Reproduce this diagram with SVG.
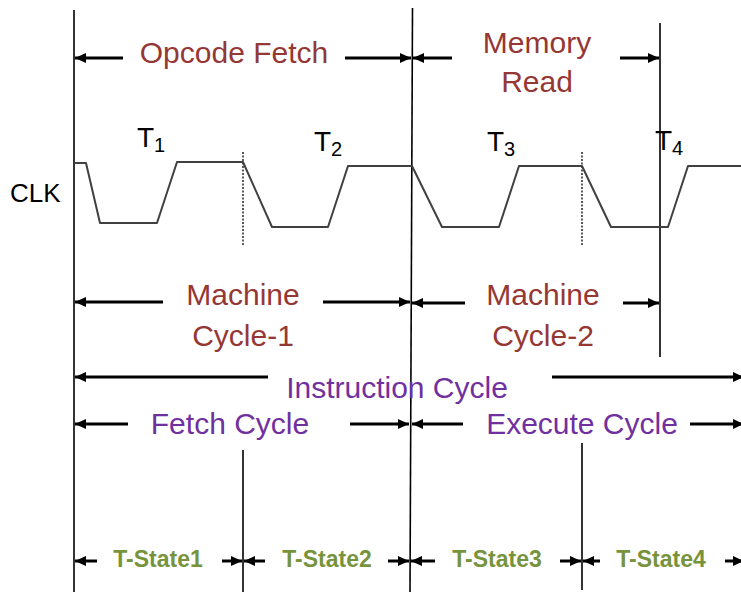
<svg xmlns="http://www.w3.org/2000/svg" width="741" height="592" viewBox="0 0 741 592">
<defs>
<marker id="ah" markerUnits="userSpaceOnUse" markerWidth="12" markerHeight="10" refX="11" refY="5" orient="auto-start-reverse">
<path d="M0,0 L11,5 L0,10 z" fill="#000"/>
</marker>
<style>
.lbl{font-family:"Liberation Sans",Arial,sans-serif;font-size:30px;text-anchor:middle}
.red{fill:#953735}
.pur{fill:#7030A0}
.grn{fill:#77933C;font-size:23px;font-weight:bold}
.blk{fill:#000;font-family:"Liberation Sans",Arial,sans-serif}
.vl{stroke:#000;stroke-width:1.6;fill:none}
.dl{stroke:#333;stroke-width:1.6;stroke-dasharray:2,1.5;fill:none}
.ar{stroke:#000;stroke-width:3;fill:none;marker-end:url(#ah)}
.clk{stroke:#404040;stroke-width:2;fill:none;stroke-linejoin:round}
</style>
</defs>
<rect width="741" height="592" fill="#fff"/>

<g id="grid">
<line class="vl" x1="74" y1="10" x2="74" y2="592"/>
<line class="vl" x1="412.5" y1="8" x2="410" y2="592"/>
<line class="vl" x1="660" y1="23" x2="660" y2="357"/>
<line class="dl" x1="243" y1="152" x2="243" y2="245"/>
<line class="dl" x1="582" y1="152" x2="582" y2="245"/>
<line class="vl" x1="243" y1="450" x2="243" y2="592"/>
<line class="vl" x1="582" y1="443" x2="582" y2="590"/>
</g>

<g id="clock">
<polyline class="clk" points="74,163 86,163 100,223 157,223 177,162 243,162 272,227 328,227 348,166 412,166 442,227 499,227 519,166 582,166 611,227 668,227 688,166 741,166"/>
<text class="blk" x="10" y="202" font-size="26">CLK</text>
<text class="blk" x="137" y="147" font-size="28">T<tspan font-size="20" dy="5">1</tspan></text>
<text class="blk" x="314" y="151" font-size="28">T<tspan font-size="20" dy="5">2</tspan></text>
<text class="blk" x="487" y="151" font-size="28">T<tspan font-size="20" dy="5">3</tspan></text>
<text class="blk" x="655" y="150" font-size="28">T<tspan font-size="20" dy="5">4</tspan></text>
</g>

<g id="opcode-fetch"><text class="lbl red" x="234" y="63">Opcode Fetch</text></g>
<g id="memory-read"><text class="lbl red" x="537" y="53">Memory</text><text class="lbl red" x="537" y="92">Read</text></g>
<g id="machine-cycle-1"><text class="lbl red" x="243" y="305">Machine</text><text class="lbl red" x="243" y="346">Cycle-1</text></g>
<g id="machine-cycle-2"><text class="lbl red" x="543" y="305">Machine</text><text class="lbl red" x="543" y="346">Cycle-2</text></g>
<g id="instruction-cycle"><text class="lbl pur" x="397" y="398">Instruction Cycle</text></g>
<g id="fetch-cycle"><text class="lbl pur" x="230" y="434">Fetch Cycle</text></g>
<g id="execute-cycle"><text class="lbl pur" x="582" y="434">Execute Cycle</text></g>
<g id="t-state1"><text class="lbl grn" x="158" y="567">T-State1</text></g>
<g id="t-state2"><text class="lbl grn" x="327" y="567">T-State2</text></g>
<g id="t-state3"><text class="lbl grn" x="497" y="567">T-State3</text></g>
<g id="t-state4"><text class="lbl grn" x="661" y="567">T-State4</text></g>

<g id="connectors">
<line class="ar" x1="123" y1="58" x2="75" y2="58"/>
<line class="ar" x1="345" y1="58" x2="411" y2="58"/>
<line class="ar" x1="452" y1="58" x2="413" y2="58"/>
<line class="ar" x1="620" y1="58" x2="659" y2="58"/>

<line class="ar" x1="163" y1="302" x2="75" y2="302"/>
<line class="ar" x1="323" y1="302" x2="410" y2="302"/>
<line class="ar" x1="465" y1="303" x2="412" y2="303"/>
<line class="ar" x1="623" y1="303" x2="659" y2="303"/>

<line class="ar" x1="268" y1="377" x2="75" y2="377"/>
<line class="ar" x1="552" y1="377" x2="744" y2="377"/>

<line class="ar" x1="128" y1="424" x2="75" y2="424"/>
<line class="ar" x1="350" y1="424" x2="409" y2="424"/>
<line class="ar" x1="463" y1="424" x2="412" y2="424"/>
<line class="ar" x1="690" y1="424" x2="744" y2="424"/>

<line class="ar" x1="97" y1="561" x2="75" y2="561"/>
<line class="ar" x1="222" y1="561" x2="242" y2="561"/>
<line class="ar" x1="265" y1="561" x2="244" y2="561"/>
<line class="ar" x1="388" y1="561" x2="409" y2="561"/>
<line class="ar" x1="435" y1="561" x2="411" y2="561"/>
<line class="ar" x1="560" y1="561" x2="581" y2="561"/>
<line class="ar" x1="600" y1="561" x2="583" y2="561"/>
<line class="ar" x1="725" y1="561" x2="744" y2="561"/>
</g>
</svg>
